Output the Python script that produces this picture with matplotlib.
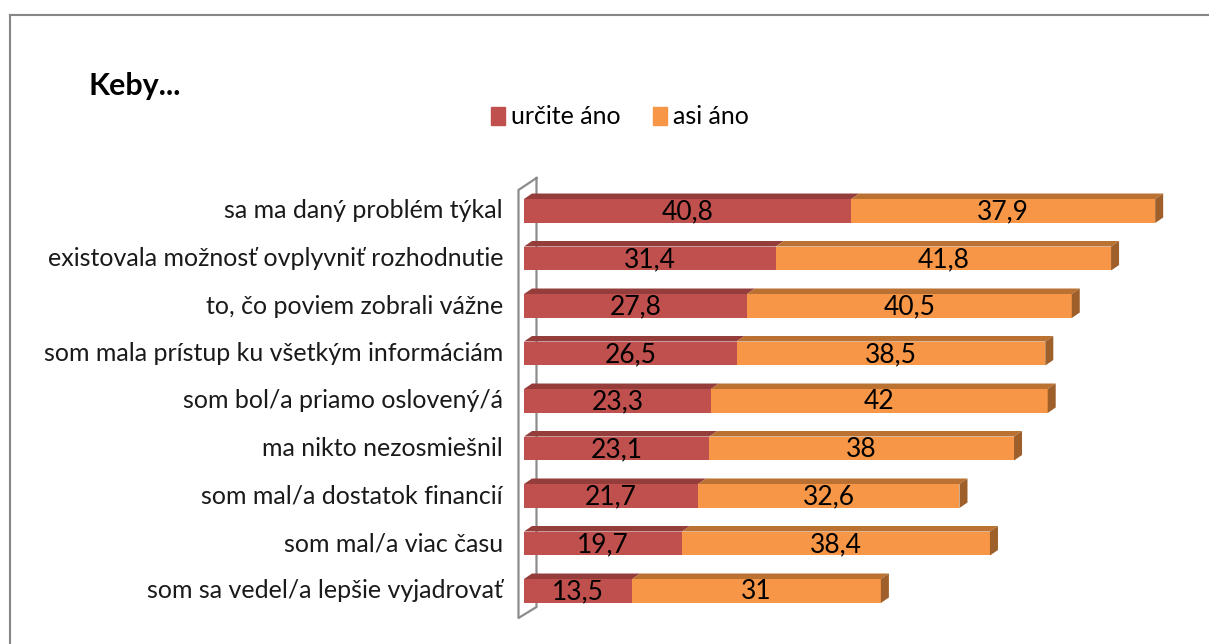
import matplotlib
matplotlib.use('Agg')
import matplotlib.pyplot as plt
from matplotlib.patches import Polygon, Patch
from matplotlib.lines import Line2D

plt.rcParams['font.family'] = ['Lato', 'DejaVu Sans']

# data
categories = ['sa ma daný problém týkal',
              'existovala možnosť ovplyvniť rozhodnutie',
              'to, čo poviem zobrali vážne',
              'som mala prístup ku všetkým informáciám',
              'som bol/a priamo oslovený/á',
              'ma nikto nezosmiešnil',
              'som mal/a dostatok financií',
              'som mal/a viac času',
              'som sa vedel/a lepšie vyjadrovať']
urcite = [40.8, 31.4, 27.8, 26.5, 23.3, 23.1, 21.7, 19.7, 13.5]
asi = [37.9, 41.8, 40.5, 38.5, 42, 38, 32.6, 38.4, 31]
series_names = ['určite áno', 'asi áno']

# colours: front, top, side
red = ('#C0504D', '#943D3A', '#7E3330')
orange = ('#F79646', '#BA7132', '#9E5F2A')

W, H = 1209, 644
fig = plt.figure(figsize=(W / 100, H / 100), dpi=100)

# axes placed so 0 sits at x=524px, 8.02 px per unit
px_per_unit = 8.02
left = 524 / W
xmax = 85
width = xmax * px_per_unit / W
ax = fig.add_axes([left, 1 - 630 / H, width, (630 - 170) / H])
ax.set_xlim(0, xmax)
row0, step = 211, 47.5
ax.set_ylim((630 - row0) / step, (170 - row0) / step)
ax.axis('off')

h = 0.505
dx = 8 / px_per_unit
dy = -5.5 / step

ypos = list(range(len(categories)))
ax.barh(ypos, urcite, height=h, color=red[0], zorder=2)
ax.barh(ypos, asi, left=urcite, height=h, color=orange[0], zorder=2)


def fmt(v):
    return f'{v:g}'.replace('.', ',')


for i in ypos:
    segs = [(0, urcite[i], red), (urcite[i], urcite[i] + asi[i], orange)]
    yt, yb = i - h / 2, i + h / 2
    for x0, x1, col in segs:
        ax.add_patch(Polygon([(x0, yt), (x1, yt), (x1 + dx, yt + dy), (x0 + dx, yt + dy)],
                             closed=True, facecolor=col[1], edgecolor='none', zorder=1))
        ax.text((x0 + x1) / 2, i + 0.02, fmt(x1 - x0), ha='center', va='center',
                fontsize=19, color='black', zorder=4)
    x1 = urcite[i] + asi[i]
    ax.add_patch(Polygon([(x1, yt), (x1 + dx, yt + dy), (x1 + dx, yb + dy), (x1, yb)],
                         closed=True, facecolor=orange[2], edgecolor='none', zorder=3,
                         clip_on=False))
    ax.text(-21 / px_per_unit, i, categories[i], ha='right', va='center', fontsize=18,
            color='#1a1a1a')

# left wall of the 3D plot area
fx, bx = -5.5 / px_per_unit, 12.5 / px_per_unit
top_f, top_b = (190 - row0) / step, (178 - row0) / step
bot_f, bot_b = (618 - row0) / step, (607 - row0) / step
wall = dict(color='#8C8C8C', lw=1.6, clip_on=False, zorder=0)
ax.plot([bx, fx, fx, bx, bx], [top_b, top_f, bot_f, bot_b, top_b], **wall)

# title and legend
fig.text(88 / W, 1 - 86 / H, 'Keby...', fontsize=22, fontweight='bold', va='center', ha='left')
handles = [Patch(color=red[0]), Patch(color=orange[0])]
fig.legend(handles, series_names, loc='center', bbox_to_anchor=(620 / W, 1 - 117 / H),
           ncol=2, frameon=False, fontsize=18, handlelength=0.55, handleheight=0.7,
           handletextpad=0.25, columnspacing=1.3, borderpad=0)

# chart border
border = dict(color='#868686', lw=1.5)
fig.add_artist(Line2D([9.5 / W, 1], [1 - 15 / H, 1 - 15 / H], **border))
fig.add_artist(Line2D([9.5 / W, 9.5 / W], [0, 1 - 15 / H], **border))

fig.savefig('out.png', dpi=100)
